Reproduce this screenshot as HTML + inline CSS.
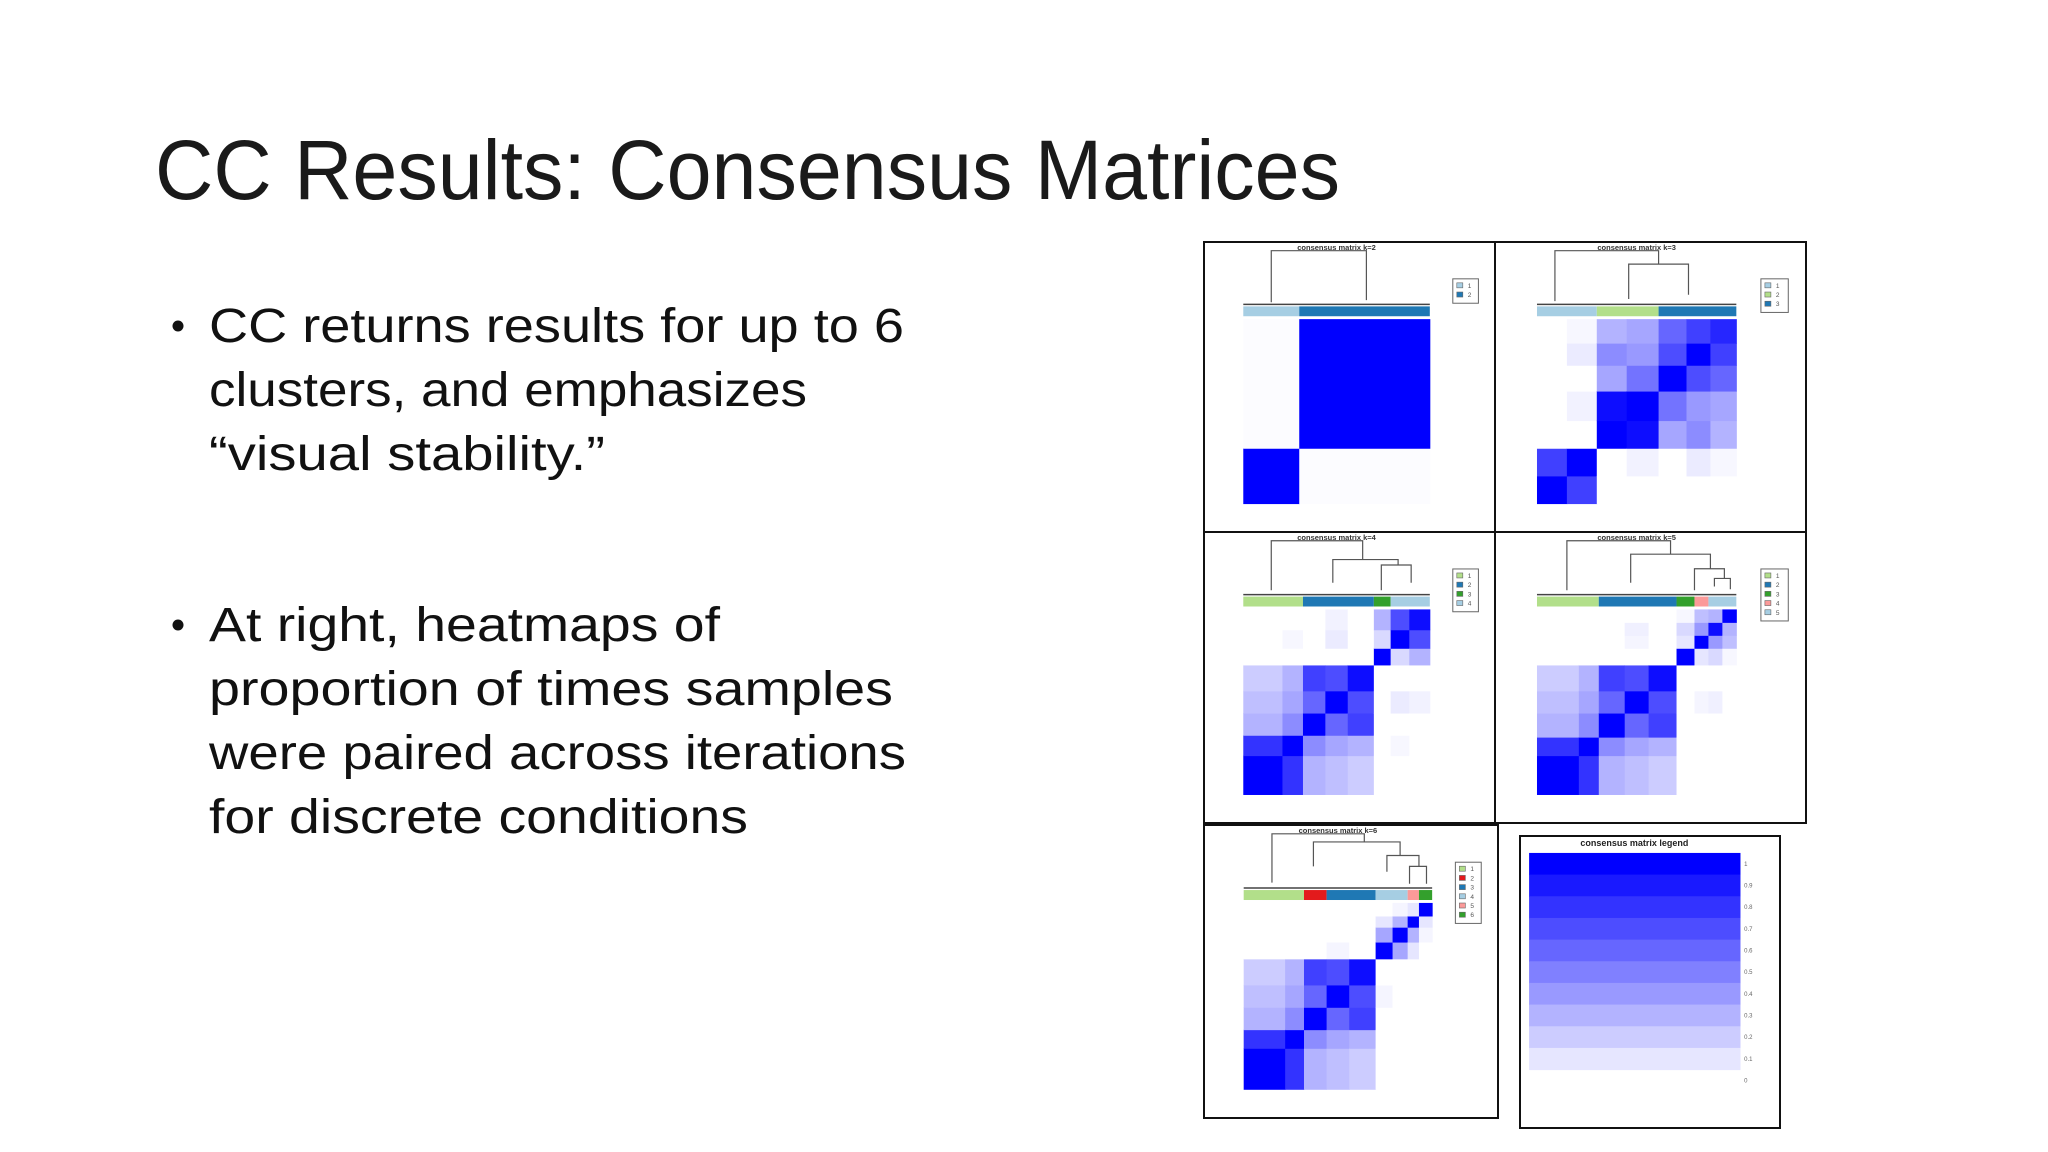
<!DOCTYPE html>
<html><head><meta charset="utf-8"><style>
html,body{margin:0;padding:0;background:#fff;}
svg{display:block;}
</style></head><body>
<svg id="slide" width="2048" height="1152" viewBox="0 0 2048 1152" xmlns="http://www.w3.org/2000/svg">
<rect x="0" y="0" width="2048" height="1152" fill="#fff"/>
<text x="155" y="199" font-family="Liberation Sans, sans-serif" font-size="84" fill="#1a1a1a" textLength="1185" lengthAdjust="spacingAndGlyphs">CC Results: Consensus Matrices</text>
<g font-family="Liberation Sans, sans-serif" font-size="48" fill="#111">
<circle cx="178" cy="326" r="5.5" fill="#111"/>
<text x="209" y="342" textLength="695" lengthAdjust="spacingAndGlyphs">CC returns results for up to 6</text>
<text x="209" y="406" textLength="598" lengthAdjust="spacingAndGlyphs">clusters, and emphasizes</text>
<text x="209" y="470" textLength="396" lengthAdjust="spacingAndGlyphs">“visual stability.”</text>
<circle cx="178" cy="625" r="5.5" fill="#111"/>
<text x="209" y="641" textLength="511" lengthAdjust="spacingAndGlyphs">At right, heatmaps of</text>
<text x="209" y="705" textLength="684" lengthAdjust="spacingAndGlyphs">proportion of times samples</text>
<text x="209" y="769" textLength="697" lengthAdjust="spacingAndGlyphs">were paired across iterations</text>
<text x="209" y="833" textLength="539" lengthAdjust="spacingAndGlyphs">for discrete conditions</text>
</g>
<g id="panels"></g>
</svg>
<script>
// ---- data ----
const panelKs = [2, 3, 4, 5, 6];
const clusterColorsK2 = ["#a6cee3", "#1f78b4"];
const clusterColorsK3 = ["#a6cee3", "#b2df8a", "#1f78b4"];
const clusterColorsK4 = ["#b2df8a", "#1f78b4", "#33a02c", "#a6cee3"];
const clusterColorsK5 = ["#b2df8a", "#1f78b4", "#33a02c", "#fb9a99", "#a6cee3"];
const clusterColorsK6 = ["#b2df8a", "#e31a1c", "#1f78b4", "#a6cee3", "#fb9a99", "#33a02c"];
const clusterBoundsK2 = [0, 0.30, 1];
const clusterBoundsK3 = [0, 0.30, 0.61, 1];
const clusterBoundsK4 = [0, 0.32, 0.70, 0.79, 1];
const clusterBoundsK5 = [0, 0.31, 0.70, 0.79, 0.86, 1];
const clusterBoundsK6 = [0, 0.32, 0.44, 0.70, 0.87, 0.93, 1];
// fine segment bounds and consensus values (segment x segment)
const segBoundsK2 = [0, 0.30, 1];
const consensusK2 = [[1, 0.01], [0.01, 1]];
const segBoundsK3 = [0, 0.15, 0.30, 0.45, 0.61, 0.75, 0.87, 1];
const consensusK3 = [
 [1, 0.75, 0, 0, 0, 0, 0],
 [0.75, 1, 0, 0.05, 0, 0.08, 0.03],
 [0, 0, 1, 0.95, 0.35, 0.45, 0.30],
 [0, 0.05, 0.95, 1, 0.55, 0.40, 0.35],
 [0, 0, 0.35, 0.55, 1, 0.70, 0.60],
 [0, 0.08, 0.45, 0.40, 0.70, 1, 0.75],
 [0, 0.03, 0.30, 0.35, 0.60, 0.75, 0.85]];
const segBoundsK4 = [0, 0.21, 0.32, 0.44, 0.56, 0.70, 0.79, 0.89, 1];
const consensusK4 = [
 [1, 0.80, 0.30, 0.25, 0.20, 0, 0, 0],
 [0.80, 1, 0.45, 0.35, 0.30, 0, 0.03, 0],
 [0.30, 0.45, 1, 0.60, 0.75, 0, 0, 0],
 [0.25, 0.35, 0.60, 1, 0.70, 0, 0.08, 0.05],
 [0.20, 0.30, 0.75, 0.70, 0.95, 0, 0, 0],
 [0, 0, 0, 0, 0, 1, 0.15, 0.30],
 [0, 0.03, 0, 0.08, 0, 0.15, 1, 0.70],
 [0, 0, 0, 0.05, 0, 0.30, 0.70, 0.95]];
const segBoundsK5 = [0, 0.21, 0.31, 0.44, 0.56, 0.70, 0.79, 0.86, 0.93, 1];
const consensusK5 = [
 [1, 0.80, 0.30, 0.25, 0.20, 0, 0, 0, 0],
 [0.80, 1, 0.45, 0.35, 0.30, 0, 0, 0, 0],
 [0.30, 0.45, 1, 0.60, 0.75, 0, 0, 0, 0],
 [0.25, 0.35, 0.60, 1, 0.70, 0, 0.04, 0.06, 0],
 [0.20, 0.30, 0.75, 0.70, 0.95, 0, 0, 0, 0],
 [0, 0, 0, 0, 0, 1, 0.10, 0.15, 0.03],
 [0, 0, 0, 0.04, 0, 0.10, 1, 0.40, 0.25],
 [0, 0, 0, 0.06, 0, 0.15, 0.40, 0.95, 0.30],
 [0, 0, 0, 0, 0, 0.03, 0.25, 0.30, 1]];
const segBoundsK6 = [0, 0.22, 0.32, 0.44, 0.56, 0.70, 0.79, 0.87, 0.93, 1];
const consensusK6 = [
 [1, 0.80, 0.30, 0.25, 0.20, 0, 0, 0, 0],
 [0.80, 1, 0.45, 0.35, 0.30, 0, 0, 0, 0],
 [0.30, 0.45, 1, 0.60, 0.75, 0, 0, 0, 0],
 [0.25, 0.35, 0.60, 1, 0.70, 0.04, 0, 0, 0],
 [0.20, 0.30, 0.75, 0.70, 0.95, 0, 0, 0, 0],
 [0, 0, 0, 0.04, 0, 1, 0.35, 0.10, 0],
 [0, 0, 0, 0, 0, 0.35, 1, 0.30, 0.04],
 [0, 0, 0, 0, 0, 0.10, 0.30, 1, 0.10],
 [0, 0, 0, 0, 0, 0, 0.04, 0.10, 1]];
// dendrogram merges: [xLeft, xRight, height, leftChildHeight, rightChildHeight]
const dendroK2 = [[0.15, 0.66, 1, 0.04, 0.08]];
const dendroK3 = [[0.09, 0.61, 1, 0.06, 0.75], [0.46, 0.76, 0.75, 0.10, 0.18]];
const dendroK4 = [[0.15, 0.64, 1, 0.08, 0.65], [0.48, 0.83, 0.65, 0.22, 0.55], [0.74, 0.90, 0.55, 0.08, 0.22]];
const dendroK5 = [[0.15, 0.67, 1, 0.08, 0.75], [0.47, 0.87, 0.75, 0.22, 0.48], [0.79, 0.94, 0.48, 0.08, 0.30], [0.89, 0.97, 0.30, 0.15, 0.10]];
const dendroK6 = [[0.15, 0.64, 1, 0.10, 0.85], [0.37, 0.83, 0.85, 0.40, 0.60], [0.76, 0.93, 0.60, 0.30, 0.40], [0.88, 0.97, 0.40, 0.08, 0.08]];
const legendValues = [1, 0.9, 0.8, 0.7, 0.6, 0.5, 0.4, 0.3, 0.2, 0.1];
const legendLabels = ["1", "0.9", "0.8", "0.7", "0.6", "0.5", "0.4", "0.3", "0.2", "0.1", "0"];

// ---- layout ----
const NS = "http://www.w3.org/2000/svg";
const root = document.getElementById("panels");
function mk(tag, attrs, parent) {
  const e = document.createElementNS(NS, tag);
  for (const k in attrs) e.setAttribute(k, attrs[k]);
  parent.appendChild(e);
  return e;
}
function blue(v) {
  const c = Math.round(255 * (1 - v));
  return "rgb(" + c + "," + c + ",255)";
}
const panelBoxes = {
  2: [1204, 242, 291, 290], 3: [1495, 242, 311, 290],
  4: [1204, 532, 291, 291], 5: [1495, 532, 311, 291],
  6: [1204, 825, 294, 293]
};
const colorsByK = {2: clusterColorsK2, 3: clusterColorsK3, 4: clusterColorsK4, 5: clusterColorsK5, 6: clusterColorsK6};
const cbByK = {2: clusterBoundsK2, 3: clusterBoundsK3, 4: clusterBoundsK4, 5: clusterBoundsK5, 6: clusterBoundsK6};
const sbByK = {2: segBoundsK2, 3: segBoundsK3, 4: segBoundsK4, 5: segBoundsK5, 6: segBoundsK6};
const cmByK = {2: consensusK2, 3: consensusK3, 4: consensusK4, 5: consensusK5, 6: consensusK6};
const dgByK = {2: dendroK2, 3: dendroK3, 4: dendroK4, 5: dendroK5, 6: dendroK6};

panelKs.forEach(function (k) {
  const b = panelBoxes[k];
  const px = b[0], py = b[1], pw = b[2], ph = b[3];
  const g = mk("g", {}, root);
  
  
  const frame = mk("rect", {x: px, y: py, width: pw, height: ph, fill: "#fff", stroke: "#111", "stroke-width": 2}, g);
  
  
  const hx = px + 0.135 * pw, hw = 0.641 * pw;
  const hy = py + 0.266 * ph, hh = 0.636 * ph;
  const xS = function (f) { return hx + f * hw; };
  const yS = function (f) { return hy + hh - f * hh; };
  const t = mk("text", {x: hx + hw / 2, y: py + 8, "font-family": "Liberation Sans, sans-serif", "font-size": 7.5, "font-weight": "bold", fill: "#333", "text-anchor": "middle"}, g);
  t.textContent = "consensus matrix k=" + k;
  
  
  const sb = sbByK[k], cm = cmByK[k];
  for (let i = 0; i < sb.length - 1; i++) {
    for (let j = 0; j < sb.length - 1; j++) {
      const v = cm[i][j];
      const r = mk("rect", {x: xS(sb[i]), y: yS(sb[j + 1]), width: xS(sb[i + 1]) - xS(sb[i]) + 0.5, height: yS(sb[j]) - yS(sb[j + 1]) + 0.5, fill: blue(v)}, g);
      
      
    }
  }
  const cb = cbByK[k], cols = colorsByK[k];
  const barY = py + 0.222 * ph, barH = 0.034 * ph;
  for (let i = 0; i < cols.length; i++) {
    const r = mk("rect", {x: xS(cb[i]), y: barY, width: xS(cb[i + 1]) - xS(cb[i]), height: barH, fill: cols[i]}, g);
    
    
  }
  const dTop = py + 0.03 * ph, dBot = barY - 2;
  const dY = function (h) { return dBot - h * (dBot - dTop); };
  dgByK[k].forEach(function (m) {
    const p = mk("path", {d: "M" + xS(m[0]) + "," + dY(m[3]) + "V" + dY(m[2]) + "H" + xS(m[1]) + "V" + dY(m[4]), fill: "none", stroke: "#555", "stroke-width": 1.2}, g);
    
    
  });
  const base = mk("line", {x1: hx, y1: dBot, x2: hx + hw, y2: dBot, stroke: "#444", "stroke-width": 1.5}, g);
  
  
  const lx = px + 0.855 * pw, ly = py + 0.127 * ph, rowH = 9.2;
  const lg = mk("g", {}, g);
  
  
  mk("rect", {x: lx, y: ly, width: 0.088 * pw, height: cols.length * rowH + 6, fill: "#fff", stroke: "#666", "stroke-width": 1}, lg);
  for (let i = 0; i < cols.length; i++) {
    const sq = mk("rect", {x: lx + 4, y: ly + 4 + i * rowH, width: 6, height: 5, fill: cols[i], stroke: "#666", "stroke-width": 0.6}, lg);
    
    
    const tx = mk("text", {x: lx + 15, y: ly + 9 + i * rowH, "font-family": "Liberation Sans, sans-serif", "font-size": 6.5, fill: "#555"}, lg);
    tx.textContent = String(i + 1);
    
    
  }
});

(function () {
  const px = 1520, py = 836, pw = 260, ph = 292;
  const g = mk("g", {}, root);
  
  
  const fr = mk("rect", {x: px, y: py, width: pw, height: ph, fill: "#fff", stroke: "#111", "stroke-width": 2}, g);
  
  
  const t = mk("text", {x: px + 0.44 * pw, y: py + 10, "font-family": "Liberation Sans, sans-serif", "font-size": 9, "font-weight": "bold", fill: "#222", "text-anchor": "middle"}, g);
  t.textContent = "consensus matrix legend";
  
  
  const bx = px + 0.035 * pw, bw = 0.813 * pw, by = py + 0.058 * ph, bh = 0.0742 * ph;
  legendValues.forEach(function (v, i) {
    const r = mk("rect", {x: bx, y: by + i * bh, width: bw, height: bh + 0.5, fill: blue(v)}, g);
    
    
  });
  legendLabels.forEach(function (s, i) {
    const tx = mk("text", {x: px + 0.862 * pw, y: by + i * bh + bh / 2 + 2, "font-family": "Liberation Sans, sans-serif", "font-size": 6, fill: "#666"}, g);
    tx.textContent = s;
    
    
  });
})();
</script>
</body></html>
